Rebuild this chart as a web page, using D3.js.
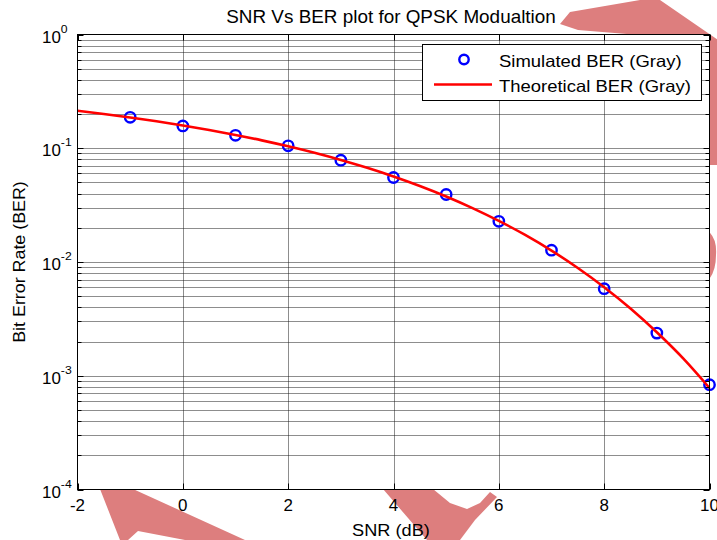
<!DOCTYPE html>
<html><head><meta charset="utf-8">
<script src="https://cdn.jsdelivr.net/npm/d3@7"></script>
<style>
body{margin:0;background:#fff}
svg{display:block}
text{font-family:"Liberation Sans",Arial,Helvetica,sans-serif;fill:#000}
</style>
</head><body>
<svg id="c" width="717" height="540"></svg>
<script>
// ---- data ----
const snrSim = [-1, 0, 1, 2, 3, 4, 5, 6, 7, 8, 9, 10];
const berSim = [0.187, 0.157, 0.130, 0.105, 0.0785, 0.0553, 0.0392, 0.0228, 0.0127, 0.00583, 0.00237, 0.000834];
const snrTheory = [-2, -1.5, -1, -0.5, 0, 0.5, 1, 1.5, 2, 2.5, 3, 3.5, 4, 4.5, 5, 5.5, 6, 6.5, 7, 7.5, 8, 8.5, 9, 9.5, 10];
const berTheory = [0.2135, 0.2001, 0.1864, 0.1726, 0.1587, 0.1447, 0.1309, 0.1173, 0.1040, 0.0912, 0.0789, 0.0673, 0.0565, 0.0466, 0.0377, 0.0298, 0.0230, 0.0173, 0.0126, 0.00886, 0.0060, 0.0039, 0.00241, 0.00142, 0.00078];
const xTicks = [-2, 0, 2, 4, 6, 8, 10];
const yDecades = [-4, -3, -2, -1, 0];
const seriesNames = ["Simulated BER (Gray)", "Theoretical BER (Gray)"];
const titleText = "SNR Vs BER plot for QPSK Modualtion";
const xLabelText = "SNR (dB)";
const yLabelText = "Bit Error Rate (BER)";

// ---- background decoration (watermark strokes behind the axes) ----
const watermark = [
  "M560,24 L570,12 L640,0 L660,0 L740,55 L740,165 L705,165 L700,40 L578,30 Z",
  "M100,489 L133,489 L245,540 L185,540 L138,531 L128,540 L120,540 Z",
  "M383,489 L433,489 L450,503 L467,509 L480,503 L490,492 L497,497 L475,520 L460,540 L427,540 Z",
  "M690,225 Q718,227 716,255 Q716,285 690,290 Z"
];

const svg = d3.select("#c");
const L = 77.5, R = 709.5, T = 34.5, B = 489.5;
const x = d3.scaleLinear().domain([-2, 10]).range([L, R]);
const y = d3.scaleLog().domain([1e-4, 1]).range([B, T]);

svg.append("g").selectAll("path").data(watermark).join("path")
  .attr("d", d => d).attr("fill", "#dd7e7e");

// plot area
svg.append("rect").attr("x", L).attr("y", T).attr("width", R - L).attr("height", B - T).attr("fill", "#fff");

// text helper with slight horizontal stretch
function txt(g, str, px, py, size, sx, anchor, rot) {
  return g.append("text")
    .attr("transform", `translate(${px},${py}) rotate(${rot || 0}) scale(${sx},1)`)
    .attr("font-size", size).attr("text-anchor", anchor || "start").text(str);
}

// grid
const grid = svg.append("g").attr("stroke", "#1a1a1a").attr("stroke-width", 1).attr("stroke-dasharray", "1,1").attr("fill", "none");
const minorVals = [];
yDecades.slice(0, -1).forEach(e => { for (let m = 1; m <= 9; m++) minorVals.push(m * Math.pow(10, e)); });
minorVals.push(1);
grid.selectAll("line.h").data(minorVals.filter(v => v > 1e-4 && v < 1)).join("line")
  .attr("x1", L).attr("x2", R).attr("y1", d => Math.round(y(d)) + 0.5).attr("y2", d => Math.round(y(d)) + 0.5);
grid.selectAll("line.v").data(xTicks.slice(1, -1)).join("line")
  .attr("y1", T).attr("y2", B).attr("x1", d => Math.round(x(d)) + 0.5).attr("x2", d => Math.round(x(d)) + 0.5);

// data: simulated markers, then theoretical line on top
svg.append("g").selectAll("circle").data(snrSim.map((s, i) => [s, berSim[i]])).join("circle")
  .attr("cx", d => x(d[0])).attr("cy", d => y(d[1])).attr("r", 5.2)
  .attr("fill", "none").attr("stroke", "#0000ff").attr("stroke-width", 2.4);

const line = d3.line().x(d => x(d[0])).y(d => y(d[1])).curve(d3.curveMonotoneX);
svg.append("path").datum(snrTheory.map((s, i) => [s, berTheory[i]]))
  .attr("d", line).attr("fill", "none").attr("stroke", "#ff0000").attr("stroke-width", 2.6);

// axes box and ticks
const ax = svg.append("g").attr("stroke", "#000").attr("stroke-width", 1).attr("fill", "none");
ax.append("rect").attr("x", L).attr("y", T).attr("width", R - L).attr("height", B - T);
xTicks.forEach(t => {
  const px = Math.round(x(t)) + 0.5;
  ax.append("line").attr("x1", px).attr("x2", px).attr("y1", B).attr("y2", B - 6);
  ax.append("line").attr("x1", px).attr("x2", px).attr("y1", T).attr("y2", T + 6);
});
minorVals.forEach(v => {
  const py = Math.round(y(v)) + 0.5;
  const major = Math.abs(Math.log10(v) - Math.round(Math.log10(v))) < 1e-9;
  const len = major ? 6 : 4;
  ax.append("line").attr("y1", py).attr("y2", py).attr("x1", L).attr("x2", L + len);
  ax.append("line").attr("y1", py).attr("y2", py).attr("x1", R).attr("x2", R - len);
});

// tick labels
const lab = svg.append("g");
xTicks.forEach(t => txt(lab, String(t), x(t), 511, 16, 1.06, "middle"));
yDecades.forEach(e => {
  const py = y(Math.pow(10, e));
  const t = lab.append("text").attr("transform", `translate(42,${py + 8}) scale(1.06,1)`).attr("font-size", 16);
  t.append("tspan").text("10");
  t.append("tspan").attr("dy", -10).attr("font-size", 11.5).text(String(e));
});

// titles
txt(svg, titleText, 391, 23, 18, 1.05, "middle");
txt(svg, xLabelText, 391, 536, 17, 1.07, "middle");
txt(svg, yLabelText, 25, (T + B) / 2, 17, 1.05, "middle", -90);

// legend
const lg = svg.append("g");
lg.append("rect").attr("x", 422.5).attr("y", 44.5).attr("width", 279).attr("height", 56)
  .attr("fill", "#fff").attr("stroke", "#000").attr("stroke-width", 1);
lg.append("circle").attr("cx", 464).attr("cy", 59.5).attr("r", 4.7)
  .attr("fill", "none").attr("stroke", "#0000ff").attr("stroke-width", 2.4);
lg.append("line").attr("x1", 434).attr("x2", 492).attr("y1", 84.5).attr("y2", 84.5)
  .attr("stroke", "#ff0000").attr("stroke-width", 2.6);
txt(lg, seriesNames[0], 499, 66.5, 16.5, 1.12, "start");
txt(lg, seriesNames[1], 499, 91.5, 16.5, 1.12, "start");
</script>
</body></html>
